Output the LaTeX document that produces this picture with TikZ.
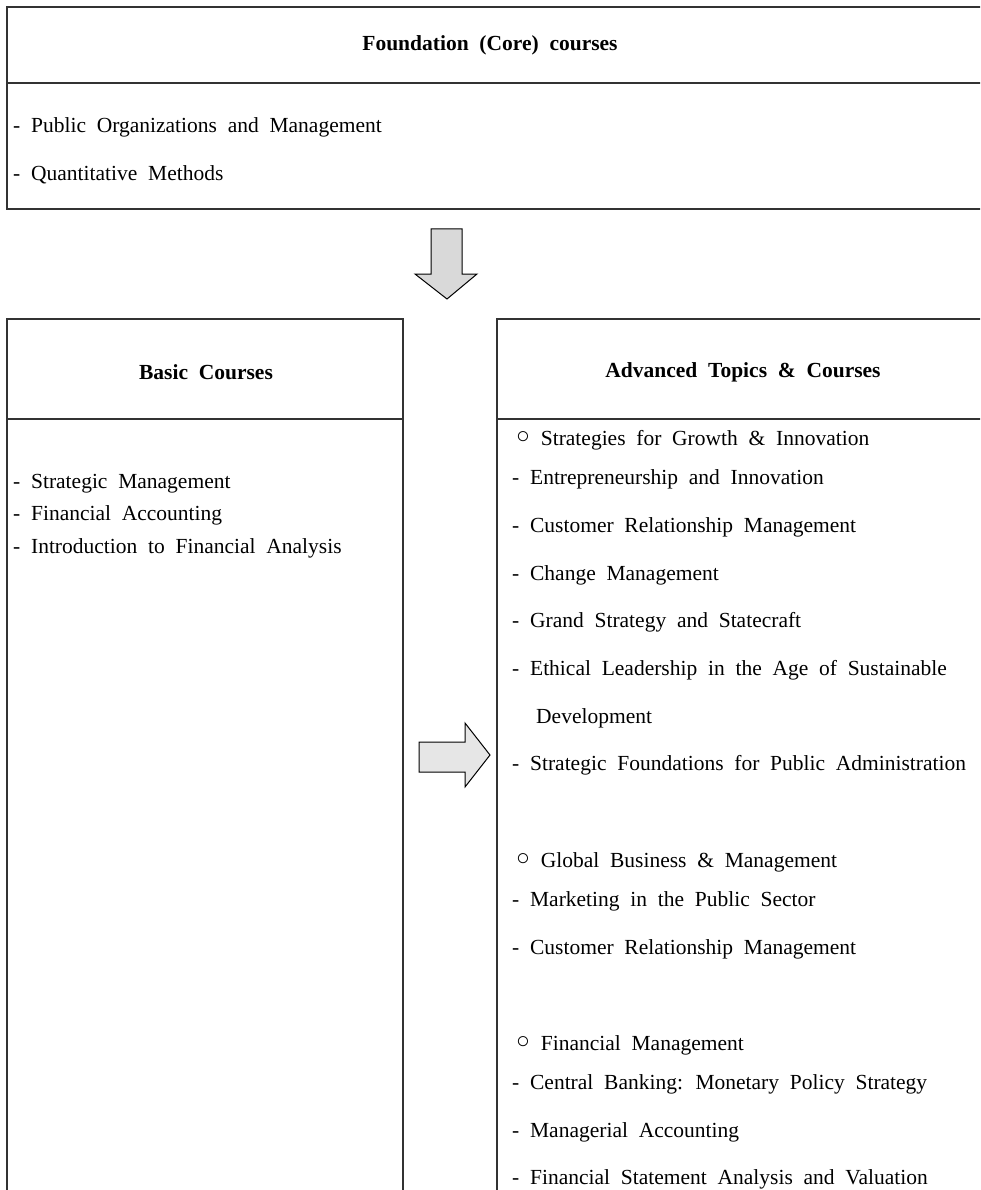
\documentclass[tikz,border=0pt]{standalone}
\usepackage{fontspec}
\setmainfont{Liberation Serif}[WordSpace=2]
\definecolor{lineGray}{HTML}{333333}
\definecolor{arrowFill}{HTML}{D9D9D9}
\definecolor{arrowFillLight}{HTML}{E6E6E6}
\tikzset{
  boxline/.style={draw=lineGray,line width=1.1pt},
  arrowline/.style={draw=black,line width=1pt,line join=miter},
  headtext/.style={font=\fontsize{21.5}{26}\selectfont\bfseries,inner sep=0pt},
  itemtext/.style={anchor=base west,font=\fontsize{21.5}{26}\selectfont,inner sep=0pt},
}
\newcommand{\ringmark}{\raisebox{1.5pt}{\fontsize{23}{23}\selectfont ○}}

\begin{document}
\begin{tikzpicture}[x=1pt,y=-1pt]
\useasboundingbox (0,0) rectangle (980,1190);
\clip (0,0) rectangle (980,1190);
% top box
\draw[boxline] (990,7) -- (7,7) -- (7,209) -- (990,209);
\draw[boxline] (7,83) -- (990,83);
\node[headtext] (coreHead) at (490,45) {Foundation (Core) courses};
\node[itemtext] (core1) at (13,133) {- Public Organizations and Management};
\node[itemtext] (core2) at (13,181) {- Quantitative Methods};
% down arrow
\draw[arrowline,fill=arrowFill] (431,229) -- (462,229) -- (462,274) -- (477,274)
  -- (447,299) -- (415,274) -- (431,274) -- cycle;
% basic box
\draw[boxline] (7,1200) -- (7,319) -- (403,319) -- (403,1200);
\draw[boxline] (7,419) -- (403,419);
\node[headtext] (basicHead) at (206,372) {Basic Courses};
\node[itemtext] (basic1) at (13,488) {- Strategic Management};
\node[itemtext] (basic2) at (13,520) {- Financial Accounting};
\node[itemtext] (basic3) at (13,553) {- Introduction to Financial Analysis};
% right arrow
\draw[arrowline,fill=arrowFillLight] (419,742) -- (465,742) -- (465,723) -- (490,755)
  -- (465,787) -- (465,772) -- (419,772) -- cycle;
% advanced box
\draw[boxline] (497,1200) -- (497,319) -- (990,319);
\draw[boxline] (497,419) -- (990,419);
\node[headtext] (advHead) at (743,372) {Advanced Topics \& Courses};
\node[itemtext] (growth) at (516,445) {\ringmark\ Strategies for Growth \& Innovation};
\node[itemtext] (growth1) at (512,484) {- Entrepreneurship and Innovation};
\node[itemtext] (growth2) at (512,532) {- Customer Relationship Management};
\node[itemtext] (growth3) at (512,580) {- Change Management};
\node[itemtext] (growth4) at (512,627) {- Grand Strategy and Statecraft};
\node[itemtext] (growth5) at (512,675) {- Ethical Leadership in the Age of Sustainable};
\node[itemtext] (growth5b) at (536,723) {Development};
\node[itemtext] (growth6) at (512,770) {- Strategic Foundations for Public Administration};
\node[itemtext] (global) at (516,867) {\ringmark\ Global Business \& Management};
\node[itemtext] (global1) at (512,906) {- Marketing in the Public Sector};
\node[itemtext] (global2) at (512,954) {- Customer Relationship Management};
\node[itemtext] (finance) at (516,1050) {\ringmark\ Financial Management};
\node[itemtext] (finance1) at (512,1089) {- Central Banking: Monetary Policy Strategy};
\node[itemtext] (finance2) at (512,1137) {- Managerial Accounting};
\node[itemtext] (finance3) at (512,1184) {- Financial Statement Analysis and Valuation};
\end{tikzpicture}
\end{document}
